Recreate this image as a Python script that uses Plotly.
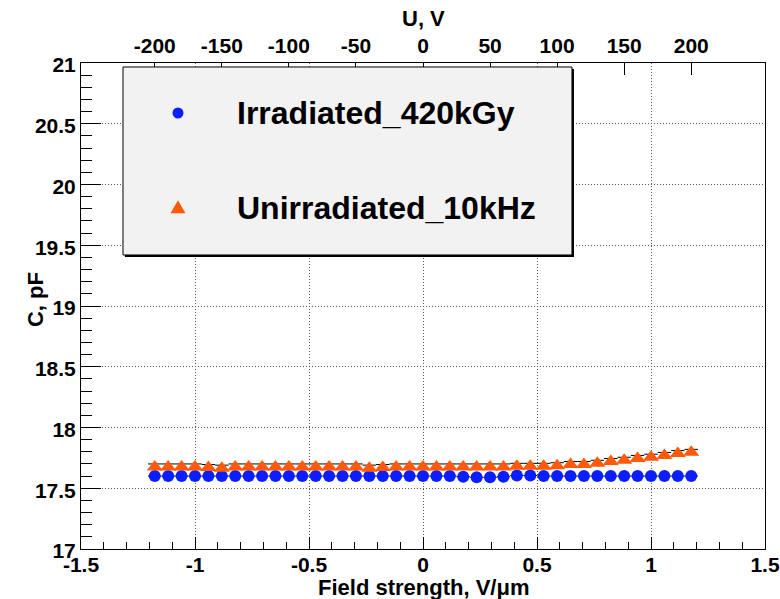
import plotly.graph_objects as go

# Bias sweep (V) and measured capacitance (pF)
bias_voltage = [-200, -190, -180, -170, -160, -150, -140, -130, -120, -110,
                -100, -90, -80, -70, -60, -50, -40, -30, -20, -10,
                0, 10, 20, 30, 40, 50, 60, 70, 80, 90,
                100, 110, 120, 130, 140, 150, 160, 170, 180, 190, 200]

cap_irradiated = [17.60, 17.60, 17.60, 17.60, 17.60, 17.60, 17.60, 17.60, 17.60, 17.60,
                  17.60, 17.60, 17.60, 17.60, 17.60, 17.60, 17.60, 17.60, 17.60, 17.60,
                  17.60, 17.60, 17.60, 17.595, 17.59, 17.59, 17.595, 17.605, 17.605, 17.60,
                  17.60, 17.60, 17.60, 17.60, 17.60, 17.60, 17.60, 17.60, 17.60, 17.60, 17.60]

cap_unirradiated = [17.70, 17.70, 17.70, 17.70, 17.695, 17.69, 17.70, 17.70, 17.70, 17.70,
                    17.70, 17.70, 17.70, 17.70, 17.70, 17.70, 17.69, 17.695, 17.70, 17.70,
                    17.70, 17.70, 17.70, 17.70, 17.70, 17.70, 17.70, 17.705, 17.705, 17.705,
                    17.71, 17.72, 17.72, 17.73, 17.745, 17.755, 17.77, 17.78, 17.795, 17.81, 17.82]

voltage_err = [5] * len(bias_voltage)
cap_err = [0.015] * len(bias_voltage)

series_names = ["Irradiated_420kGy", "Unirradiated_10kHz"]

field_ticks = [-1.5, -1, -0.5, 0, 0.5, 1, 1.5]
field_tick_labels = ["-1.5", "-1", "-0.5", "0", "0.5", "1", "1.5"]
voltage_ticks = [-200, -150, -100, -50, 0, 50, 100, 150, 200]
voltage_tick_labels = ["-200", "-150", "-100", "-50", "0", "50", "100", "150", "200"]
cap_ticks = [17, 17.5, 18, 18.5, 19, 19.5, 20, 20.5, 21]
cap_tick_labels = ["17", "17.5", "18", "18.5", "19", "19.5", "20", "20.5", "21"]

sensor_thickness_um = 170  # field = U / thickness
field_range = [-1.5, 1.5]

FONT = "Liberation Sans, Arial, Helvetica, sans-serif"
BLUE = "#0a1eff"
ORANGE = "#ff5a0a"

fig = go.Figure()

# empty trace so the field-strength (bottom) axis gets its own subplot
fig.add_trace(go.Scatter(x=[], y=[], xaxis="x", yaxis="y", mode="markers",
                         showlegend=False, hoverinfo="skip"))

err_style = dict(type="data", color="black", thickness=1, width=0)

fig.add_trace(go.Scatter(
    x=bias_voltage, y=cap_irradiated, xaxis="x2", yaxis="y",
    mode="markers", name=series_names[0], showlegend=False,
    marker=dict(symbol="circle", size=12, color=BLUE),
    error_x=dict(array=voltage_err, **err_style),
    error_y=dict(array=cap_err, **err_style),
))
# upward triangle nudged down so its bounding box is centred on the point
fig.add_trace(go.Scatter(
    x=bias_voltage, y=cap_unirradiated, xaxis="x2", yaxis="y",
    mode="markers", name=series_names[1], showlegend=False,
    marker=dict(symbol="triangle-up", angle=0, standoff=3, size=14, color=ORANGE),
    error_x=dict(array=voltage_err, **err_style),
    error_y=dict(array=cap_err, **err_style),
))

tick_font = dict(family=FONT, size=21, color="black", weight="bold")
title_font = dict(family=FONT, size=22, color="black", weight="bold")
legend_font = dict(family=FONT, size=32, color="black", weight="bold")
grid_dash = "1px,2px"

# Legend box drawn as shapes (shadow, body, keys)
key_x = 0.1418
key_y = [0.8971, 0.703]
legend_shapes = [
    dict(type="rect", xref="paper", yref="paper",
         x0=0.0643, x1=0.7207, y0=0.6009, y1=0.9877,
         fillcolor="black", line=dict(width=0), layer="above"),
    dict(type="rect", xref="paper", yref="paper",
         x0=0.0614, x1=0.7178, y0=0.605, y1=0.9918,
         fillcolor="#f2f2f2", line=dict(color="black", width=1), layer="above"),
    dict(type="circle", xref="paper", yref="paper",
         xsizemode="pixel", ysizemode="pixel", xanchor=key_x, yanchor=key_y[0],
         x0=-5.5, x1=5.5, y0=-5.5, y1=5.5,
         fillcolor=BLUE, line=dict(width=0), layer="above"),
    dict(type="path", xref="paper", yref="paper",
         xsizemode="pixel", ysizemode="pixel", xanchor=key_x, yanchor=key_y[1],
         path="M -7.5 -6 L 7.5 -6 L 0 7 Z",
         fillcolor=ORANGE, line=dict(width=0), layer="above"),
]

fig.update_layout(
    width=780, height=599,
    margin=dict(l=81, r=15, t=63, b=50, autoexpand=False),
    paper_bgcolor="white", plot_bgcolor="white",
    showlegend=False,
    xaxis=dict(
        range=field_range, tickmode="array", tickvals=field_ticks,
        ticktext=field_tick_labels, ticks="inside", ticklen=12,
        tickcolor="black", tickwidth=1, tickfont=tick_font,
        ticklabelstandoff=-3, automargin=False,
        showline=True, linecolor="black", linewidth=1, mirror=True,
        showgrid=True, gridcolor="#555555", gridwidth=1, griddash=grid_dash,
        zeroline=False,
        minor=dict(ticks="inside", ticklen=7, dtick=0.1, tick0=-1.5,
                   tickcolor="black", showgrid=False),
    ),
    xaxis2=dict(
        overlaying="x", side="top", anchor="y", automargin=False,
        range=[field_range[0] * sensor_thickness_um, field_range[1] * sensor_thickness_um],
        tickmode="array", tickvals=voltage_ticks, ticktext=voltage_tick_labels,
        ticks="inside", ticklen=12, tickcolor="black", tickfont=tick_font,
        ticklabelstandoff=5,
        showline=False, showgrid=False, zeroline=False,
    ),
    yaxis=dict(
        range=[17, 21], tickmode="array", tickvals=cap_ticks,
        ticktext=cap_tick_labels, ticks="inside", ticklen=20,
        tickcolor="black", tickwidth=1, tickfont=tick_font, automargin=False,
        ticklabelshift=2,
        showline=True, linecolor="black", linewidth=1, mirror=True,
        showgrid=True, gridcolor="#555555", gridwidth=1, griddash=grid_dash,
        zeroline=False,
        minor=dict(ticks="inside", ticklen=11, dtick=0.1, tick0=17,
                   tickcolor="black", showgrid=False),
    ),
    shapes=legend_shapes,
    annotations=[
        dict(text=series_names[0], xref="paper", yref="paper", x=0.2251, y=key_y[0],
             xanchor="left", yanchor="middle", showarrow=False, font=legend_font),
        dict(text=series_names[1], xref="paper", yref="paper", x=0.2251, y=0.7016,
             xanchor="left", yanchor="middle", showarrow=False, font=legend_font),
        dict(text="Field strength, V/μm", xref="paper", yref="paper", x=0.5, y=0,
             xanchor="center", yanchor="middle", yshift=-38, showarrow=False,
             font=title_font),
        dict(text="U, V", xref="paper", yref="paper", x=0.5, y=1,
             xanchor="center", yanchor="middle", yshift=45, showarrow=False,
             font=title_font),
        dict(text="C, pF", xref="paper", yref="paper", x=0, y=0.5123,
             xanchor="center", yanchor="middle", xshift=-46, textangle=-90,
             showarrow=False, font=title_font),
    ],
)

fig.write_html("out.html")
